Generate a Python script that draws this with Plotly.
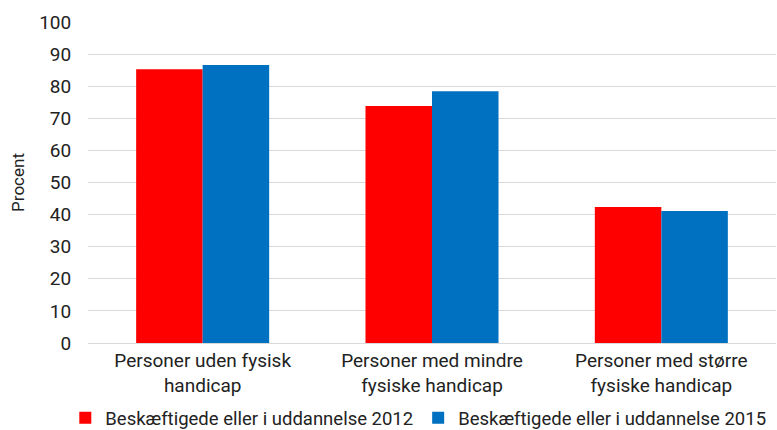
import plotly.graph_objects as go

categories = ["Personer uden fysisk<br>handicap", "Personer med mindre<br>fysiske handicap", "Personer med større<br>fysiske handicap"]
series_2012 = [85.3, 73.8, 42.4]
series_2015 = [86.6, 78.4, 41.1]
names = ["Beskæftigede eller i uddannelse 2012", "Beskæftigede eller i uddannelse 2015"]
y_ticks = list(range(0, 101, 10))

font_family = "Roboto, sans-serif"

fig = go.Figure()
fig.add_trace(go.Bar(x=categories, y=series_2012, name=names[0], marker=dict(color="#FF0000", line=dict(width=0))))
fig.add_trace(go.Bar(x=categories, y=series_2015, name=names[1], marker=dict(color="#0070C0", line=dict(width=0))))

fig.update_layout(
    width=777, height=430,
    margin=dict(l=88, r=1, t=22, b=87, autoexpand=False),
    paper_bgcolor="white", plot_bgcolor="white",
    barmode="group", bargap=0.42, bargroupgap=0,
    font=dict(family=font_family, size=19, color="#222222"),
    legend=dict(orientation="h", x=-0.033, xanchor="left",
                y=-0.234, yanchor="middle",
                font=dict(size=18.5), itemwidth=30, tracegroupgap=0, bgcolor="rgba(0,0,0,0)"),
    yaxis=dict(range=[0, 100], tickvals=y_ticks, gridcolor="#D9D9D9", gridwidth=1,
               zeroline=False, showline=False, ticks="outside", ticklen=12,
               tickcolor="rgba(0,0,0,0)", automargin=False,
               title=dict(text="Procent", font=dict(size=17), standoff=10)),
    xaxis=dict(showline=True, linecolor="#D9D9D9", linewidth=1, ticks="", automargin=False,
               tickfont=dict(size=19)),
)

fig.write_html("out.html", config={"displayModeBar": False},
               post_script="document.body.style.margin='0';document.body.style.padding='0';")
